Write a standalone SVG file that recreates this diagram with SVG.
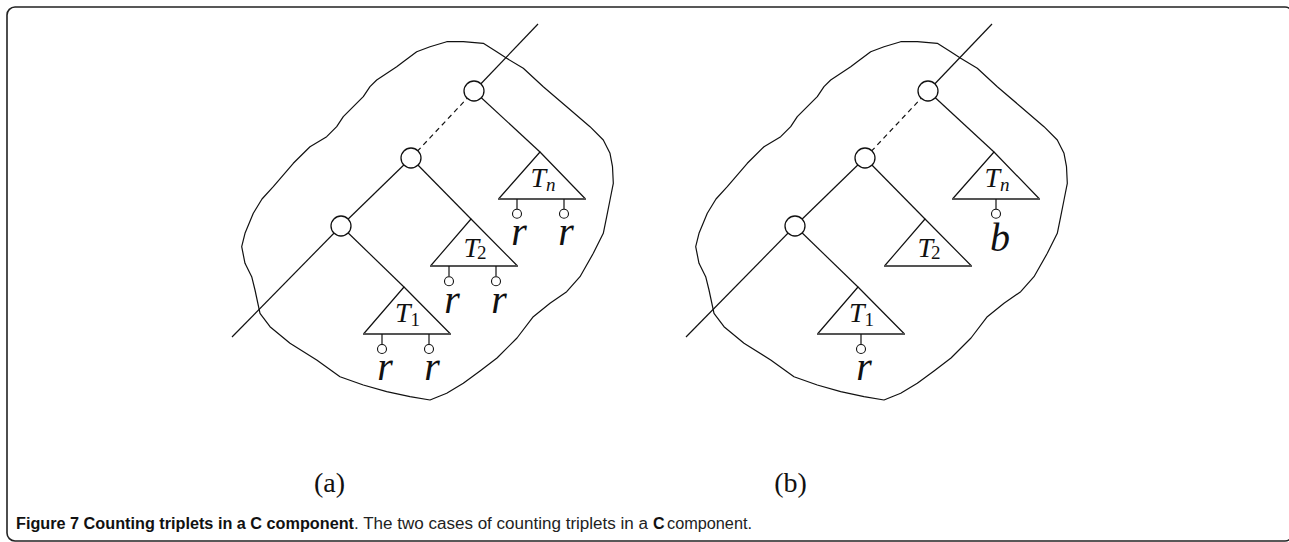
<svg xmlns="http://www.w3.org/2000/svg" xmlns:xlink="http://www.w3.org/1999/xlink" width="1289" height="542" viewBox="0 0 1289 542">
<style>
.frame{fill:none;stroke:#222;stroke-width:1.6}
.ln{fill:none;stroke:#111;stroke-width:1.2}
.dash{fill:none;stroke:#111;stroke-width:1.2;stroke-dasharray:5 4}
.blob{fill:none;stroke:#111;stroke-width:1.2;stroke-linejoin:round}
.nd{fill:#fff;stroke:#111;stroke-width:1.3}
.tri{fill:none;stroke:#111;stroke-width:1.2;stroke-linejoin:miter}
.base{stroke:#555;stroke-width:2}
.leaf{fill:#fff;stroke:#111;stroke-width:1.1}
.stem{stroke:#111;stroke-width:1.2}
.T{font-family:"Liberation Serif","Times New Roman",serif;font-style:italic;font-size:28px;fill:#111}
.sub{font-family:"Liberation Serif","Times New Roman",serif;font-size:19px;fill:#111}
.subi{font-family:"Liberation Serif","Times New Roman",serif;font-style:italic;font-size:19px;fill:#111}
.lab{font-family:"Liberation Serif","Times New Roman",serif;font-style:italic;font-size:40px;fill:#111;text-anchor:middle}
.panel{font-family:"Liberation Serif","Times New Roman",serif;font-size:28px;fill:#111;text-anchor:middle}
.capb{font-family:"Liberation Sans",Arial,sans-serif;font-weight:bold;font-size:16px;fill:#111}
.capn{font-family:"Liberation Sans",Arial,sans-serif;font-size:16px;fill:#222}
</style>
<defs>
<path id="blobshape" class="blob" d="M262,199 L273.3,186.7 L293.3,163.3 L310,146.7 L326.7,136.7 L336.7,126.7 L343.3,116.7 L363.3,96.7 L370,86.7 L376.7,80 L396.7,66.7 L403.3,61.7 L416.7,51.7 L430,46.7 L446.7,41.7 L463.3,41.7 L483.3,43.3 L496.7,51.7 L506.7,58.3 L523.3,68.3 L543.3,86.7 L566.7,106.7 L590,126.7 L603.3,140 L610,153.3 L612.5,166.7 L613.3,183.3 L610,200 L606.7,216.7 L603.3,233.3 L593.3,253.3 L580,276.7 L566.7,291.7 L550,303.3 L533.3,316.7 L517,338 L497,358 L480,371 L463.3,383.3 L446.7,393.3 L430,400 L410,396.7 L386.7,391.7 L363.3,385 L340,376.7 L316.7,360 L290,343.3 L270,326.7 L260,313.3 L255,290 L251.7,276.7 L245,263.3 L241.7,246.7 L245,233.3 L253.3,213.3 Z"/>
</defs>

<rect class="frame" x="7" y="7" width="1286" height="534" rx="8"/>

<!-- Panel (a) -->
<g id="panel-a">
  <use xlink:href="#blobshape" href="#blobshape"/>
  <g id="connectors-a">
    <line class="ln" x1="232" y1="337" x2="341" y2="226"/>
    <line class="ln" x1="341" y1="226" x2="411" y2="158"/>
    <line class="dash" x1="411" y1="158" x2="474" y2="91"/>
    <line class="ln" x1="474" y1="91" x2="538" y2="24"/>
    <line class="ln" x1="474" y1="91" x2="540" y2="152"/>
    <line class="ln" x1="411" y1="158" x2="471" y2="219"/>
    <line class="ln" x1="341" y1="226" x2="404" y2="287"/>
  </g>
  <g id="a-node1"><circle class="nd" cx="474" cy="91" r="10"/></g>
  <g id="a-node2"><circle class="nd" cx="411" cy="158" r="10"/></g>
  <g id="a-node3"><circle class="nd" cx="341" cy="226" r="10"/></g>

  <g id="a-Tn">
    <path class="tri" d="M498.5,199 L540,152 L585.5,199"/>
    <line class="base" x1="498" y1="199" x2="586" y2="199"/>
    <text class="T" x="530.5" y="186.5">T</text><text class="subi" x="546" y="190.5">n</text>
    <line class="stem" x1="517" y1="199" x2="517" y2="209"/>
    <circle class="leaf" cx="517" cy="213.7" r="4.5"/>
    <line class="stem" x1="564" y1="199" x2="564" y2="209"/>
    <circle class="leaf" cx="564" cy="213.7" r="4.5"/>
    <text class="lab" x="519" y="245">r</text>
    <text class="lab" x="566" y="245">r</text>
  </g>
  <g id="a-T2">
    <path class="tri" d="M430.5,266 L471,219 L517.5,266"/>
    <line class="base" x1="430" y1="266" x2="518" y2="266"/>
    <text class="T" x="463.5" y="257">T</text><text class="sub" x="477" y="259">2</text>
    <line class="stem" x1="449" y1="266" x2="449" y2="276.5"/>
    <circle class="leaf" cx="449" cy="281.3" r="4.5"/>
    <line class="stem" x1="496" y1="266" x2="496" y2="276.5"/>
    <circle class="leaf" cx="496" cy="281.3" r="4.5"/>
    <text class="lab" x="452" y="312.5">r</text>
    <text class="lab" x="499" y="312.5">r</text>
  </g>
  <g id="a-T1">
    <path class="tri" d="M363.5,334 L404,287 L450.5,334"/>
    <line class="base" x1="363" y1="334" x2="451" y2="334"/>
    <text class="T" x="395" y="322">T</text><text class="sub" x="410.5" y="325.5">1</text>
    <line class="stem" x1="382" y1="334" x2="382" y2="344.5"/>
    <circle class="leaf" cx="382" cy="349" r="4.5"/>
    <line class="stem" x1="429" y1="334" x2="429" y2="344.5"/>
    <circle class="leaf" cx="429" cy="349" r="4.5"/>
    <text class="lab" x="385" y="380">r</text>
    <text class="lab" x="432" y="380">r</text>
  </g>
  <text class="panel" x="329.5" y="492">(a)</text>
</g>

<!-- Panel (b) -->
<g id="panel-b">
  <use xlink:href="#blobshape" href="#blobshape" transform="translate(454,0)"/>
  <g id="connectors-b">
    <line class="ln" x1="686" y1="337" x2="795" y2="226"/>
    <line class="ln" x1="795" y1="226" x2="865" y2="158"/>
    <line class="dash" x1="865" y1="158" x2="928" y2="91"/>
    <line class="ln" x1="928" y1="91" x2="992" y2="24"/>
    <line class="ln" x1="928" y1="91" x2="994" y2="152"/>
    <line class="ln" x1="865" y1="158" x2="925" y2="219"/>
    <line class="ln" x1="795" y1="226" x2="858" y2="287"/>
  </g>
  <g id="b-node1"><circle class="nd" cx="928" cy="91" r="10"/></g>
  <g id="b-node2"><circle class="nd" cx="865" cy="158" r="10"/></g>
  <g id="b-node3"><circle class="nd" cx="795" cy="226" r="10"/></g>

  <g id="b-Tn">
    <path class="tri" d="M952.5,199 L994,152 L1039.5,199"/>
    <line class="base" x1="952" y1="199" x2="1040" y2="199"/>
    <text class="T" x="984.5" y="186.5">T</text><text class="subi" x="1000" y="190.5">n</text>
    <line class="stem" x1="996" y1="199" x2="996" y2="209"/>
    <circle class="leaf" cx="996" cy="213.7" r="4.5"/>
    <text class="lab" x="1000" y="251">b</text>
  </g>
  <g id="b-T2">
    <path class="tri" d="M884.5,266 L925,219 L971.5,266"/>
    <line class="base" x1="884" y1="266" x2="972" y2="266"/>
    <text class="T" x="917.5" y="257">T</text><text class="sub" x="931" y="259">2</text>
  </g>
  <g id="b-T1">
    <path class="tri" d="M817.5,334 L858,287 L904.5,334"/>
    <line class="base" x1="817" y1="334" x2="905" y2="334"/>
    <text class="T" x="849" y="322">T</text><text class="sub" x="864.5" y="325.5">1</text>
    <line class="stem" x1="861" y1="334" x2="861" y2="344.5"/>
    <circle class="leaf" cx="861" cy="349" r="4.5"/>
    <text class="lab" x="864" y="380">r</text>
  </g>
  <text class="panel" x="790.5" y="492">(b)</text>
</g>

<!-- Caption -->
<g id="caption">
  <text class="capb" x="16" y="528.5" textLength="338" lengthAdjust="spacingAndGlyphs">Figure 7 Counting triplets in a C component</text>
  <text class="capn" x="354" y="528.5" textLength="294" lengthAdjust="spacingAndGlyphs">. The two cases of counting triplets in a</text>
  <text class="capb" x="653" y="528.5">C</text>
  <text class="capn" x="667" y="528.5" textLength="85" lengthAdjust="spacingAndGlyphs">component.</text>
</g>
</svg>
